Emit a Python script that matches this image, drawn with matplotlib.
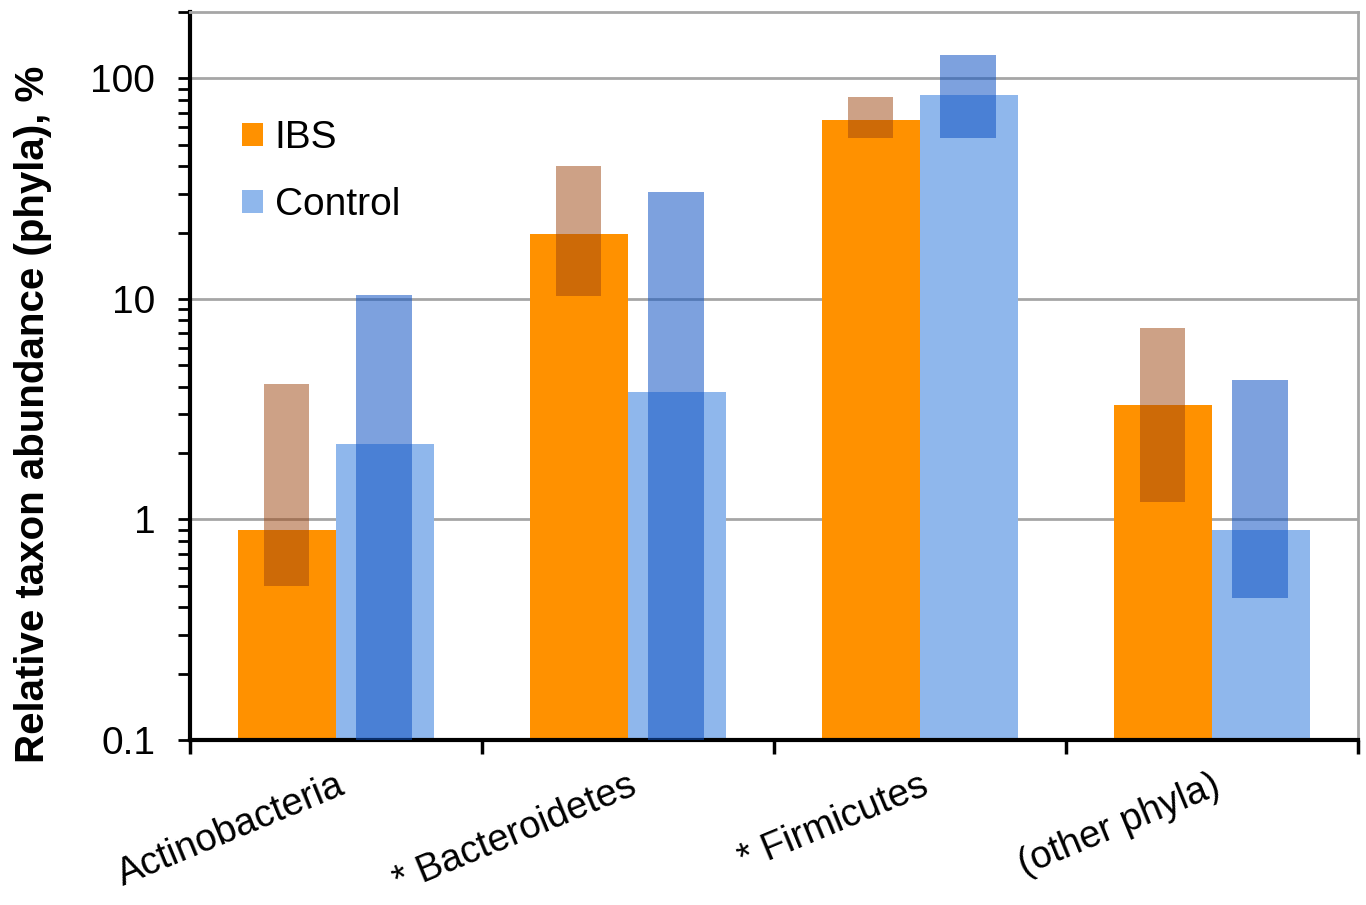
import matplotlib.pyplot as plt
import numpy as np

# phyla and values (relative abundance, %)
phyla = ["Actinobacteria", "* Bacteroidetes", "* Firmicutes", "(other phyla)"]

ibs_median = [0.9, 19.8, 64.5, 3.3]
ibs_low = [0.5, 10.3, 53.5, 1.2]
ibs_high = [4.1, 40.0, 82.0, 7.4]

ctrl_median = [2.2, 3.8, 84.5, 0.9]
ctrl_low = [0.1, 0.1, 53.5, 0.44]
ctrl_high = [10.4, 30.7, 128.0, 4.3]

plt.rcParams['font.family'] = ['Liberation Sans', 'DejaVu Sans']

fig = plt.figure(figsize=(13.66, 9.05), dpi=100)
ax = fig.add_axes([0.139, 0.1823, 0.855, 0.8044])

x = np.arange(len(phyla))
w = 0.335

ax.bar(x - w / 2, ibs_median, width=w, color="#FF9100", label="IBS", zorder=2)
ax.bar(x + w / 2, ctrl_median, width=w, color="#8FB7EC", label="Control", zorder=2)

# range bars drawn semi-transparent on top
ibs_low = np.array(ibs_low)
ctrl_low = np.array(ctrl_low)
ax.bar(x - 0.168, np.array(ibs_high) - ibs_low, bottom=ibs_low, width=0.154,
       color="#9D450F", alpha=0.5, zorder=3)
ax.bar(x + 0.164, np.array(ctrl_high) - ctrl_low, bottom=ctrl_low, width=0.192,
       color="#1254C3", alpha=0.55, zorder=3)

ax.set_yscale("log")
ax.set_ylim(0.1, 200)
ax.set_xlim(-0.5, len(phyla) - 0.5)

ax.set_yticks([0.1, 1, 10, 100])
ax.set_yticklabels(["0.1", "1", "10", "100"], fontsize=28)
ax.tick_params(axis="y", which="major", direction="out", length=9, width=2, pad=16)
ax.tick_params(axis="y", which="minor", direction="out", length=9, width=2)

# category boundary ticks, labels at the centres
ax.set_xticks(np.arange(len(phyla) + 1) - 0.5)
ax.set_xticklabels([])
ax.tick_params(axis="x", which="major", direction="out", length=10, width=2.5)
ax.set_xticks(x, minor=True)
ax.set_xticklabels(phyla, minor=True, fontsize=27.5, rotation=22.5, ha="right",
                   va="top", rotation_mode="anchor")
ax.tick_params(axis="x", which="minor", length=0, pad=20)

ax.yaxis.grid(True, which="major", color="#A6A6A6", linewidth=2, zorder=0)
ax.set_axisbelow(True)

for s in ["left", "bottom"]:
    ax.spines[s].set_linewidth(3)
    ax.spines[s].set_color("black")
for s in ["top", "right"]:
    ax.spines[s].set_linewidth(2)
    ax.spines[s].set_color("#A6A6A6")

ax.set_ylabel("Relative taxon abundance (phyla), %", fontsize=29,
              fontweight="bold")
ax.yaxis.set_label_coords(-0.118, 0.448)

ax.legend(loc="upper left", bbox_to_anchor=(0.0145, 0.8995), frameon=False,
          fontsize=28, handlelength=0.55, handleheight=0.55, handletextpad=0.3,
          labelspacing=0.8)

fig.savefig("out.png", dpi=100)
